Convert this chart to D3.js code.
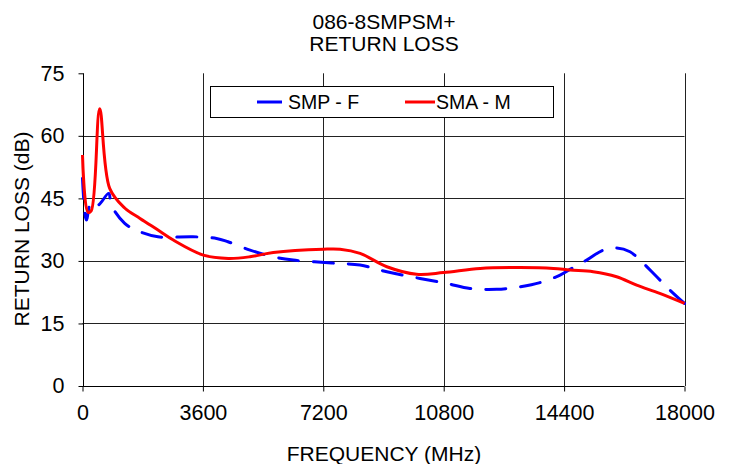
<!DOCTYPE html>
<html><head><meta charset="utf-8">
<script src="https://cdn.jsdelivr.net/npm/d3@7"></script>
<style>body{margin:0;background:#fff}svg{display:block;font-family:"Liberation Sans",Arial,sans-serif}</style>
</head><body><svg id="c" width="729" height="464"></svg>
<script>
const titleLines = ["086-8SMPSM+", "RETURN LOSS"];
const xTicks = [0, 3600, 7200, 10800, 14400, 18000];
const yTicks = [0, 15, 30, 45, 60, 75];
const seriesNames = ["SMP - F", "SMA - M"];
const smpFreq = [0, 115, 263, 463, 783, 861, 1262, 1600, 2257, 3300, 4010, 4350, 5010, 5700, 6300, 7450, 8300, 9100, 10090, 10890, 11585, 12385, 13080, 13680, 14280, 14670, 15075, 15570, 15970, 16370, 16670, 17170, 17565, 18000];
const smpLoss = [49.8, 39.8, 44.2, 43.4, 46.2, 43.4, 39, 37.4, 35.8, 35.8, 35.4, 34.6, 32.6, 31, 30.2, 29.5, 29, 27.4, 25.8, 24.6, 23.4, 23.2, 23.8, 24.8, 26.6, 28.4, 30.2, 32.6, 33.1, 32.2, 30.2, 26.2, 23, 19.8];
const smaFreq = [0, 165, 260, 514, 813, 1262, 1720, 2257, 2715, 3612, 4360, 5010, 5705, 7200, 7700, 8300, 9100, 9990, 10790, 11890, 13080, 14080, 14575, 15270, 15970, 16570, 17260, 18000];
const smaLoss = [55.4, 41.7, 42, 66.5, 47.4, 42.7, 40.2, 37.4, 35, 31.4, 30.6, 31, 32, 32.8, 32.8, 31.8, 28.6, 26.8, 27.2, 28.2, 28.4, 28.2, 27.8, 27.4, 26.2, 24.2, 22.2, 19.8];

const svg = d3.select("#c");
const L = 82.5, R = 684.5, T = 73.3, B = 386;
const x = d3.scaleLinear().domain([0, 18000]).range([L, R]);
const y = d3.scaleLinear().domain([0, 75]).range([B, T]);

// gridlines
svg.append("g").selectAll("line").data(yTicks.filter(d => d > 0 && d < 75)).join("line")
  .attr("x1", L).attr("x2", R).attr("y1", d => Math.round(y(d)) + 0.5).attr("y2", d => Math.round(y(d)) + 0.5)
  .attr("stroke", "#222").attr("stroke-width", 1);
svg.append("g").selectAll("line").data(xTicks.filter(d => d > 0)).join("line")
  .attr("y1", T).attr("y2", B).attr("x1", d => Math.round(x(d)) + 0.5).attr("x2", d => Math.round(x(d)) + 0.5)
  .attr("stroke", "#222").attr("stroke-width", 1);

// axes
const yAxis = svg.append("g").attr("transform", `translate(${Math.round(L)+0.5},0)`)
  .call(d3.axisLeft(y).tickValues(yTicks).tickSize(5).tickPadding(14).tickFormat(d3.format("d")));
const xAxis = svg.append("g").attr("transform", `translate(0,${B+0.5})`)
  .call(d3.axisBottom(x).tickValues(xTicks).tickSize(5).tickPadding(13).tickFormat(d3.format("d")));
[yAxis, xAxis].forEach(a => {
  a.select(".domain").attr("stroke", "#000");
  a.selectAll(".tick line").attr("stroke", "#000");
  a.selectAll("text").attr("font-size", 21.5).attr("fill", "#000").attr("font-family", '"Liberation Sans",Arial,sans-serif');
});
yAxis.select(".domain").attr("d", `M0,${T}V${B}`);
yAxis.selectAll(".tick line").attr("x1", 0);
xAxis.select(".domain").attr("d", `M${L},0H${R}`);

// lines
const line = d3.line().x(d => x(d[0])).y(d => y(d[1])).curve(d3.curveCatmullRom.alpha(0.5));
const plot = svg.append("g");
plot.append("path").datum(smpFreq.map((f, i) => [f, smpLoss[i]]))
  .attr("d", line).attr("fill", "none").attr("stroke", "#0000ff").attr("stroke-width", 3)
  .attr("stroke-dasharray", "20,15").attr("stroke-linecap", "round");
plot.append("path").datum(smaFreq.map((f, i) => [f, smaLoss[i]]))
  .attr("d", line).attr("fill", "none").attr("stroke", "#ff0000").attr("stroke-width", 3)
  .attr("stroke-linejoin", "round");

// legend
const lg = svg.append("g");
lg.append("rect").attr("x", 210.5).attr("y", 86.5).attr("width", 343).attr("height", 31)
  .attr("fill", "#fff").attr("stroke", "#000").attr("stroke-width", 1);
const legendItems = [
  {name: seriesNames[0], color: "#0000ff", x1: 257, x2: 282, tx: 288},
  {name: seriesNames[1], color: "#ff0000", x1: 405, x2: 435, tx: 436}
];
legendItems.forEach(it => {
  lg.append("line").attr("x1", it.x1).attr("x2", it.x2).attr("y1", 102).attr("y2", 102)
    .attr("stroke", it.color).attr("stroke-width", 3);
  lg.append("text").attr("x", it.tx).attr("y", 102).attr("dy", "0.35em")
    .attr("font-size", 19.5).text(it.name);
});

// titles
svg.append("g").selectAll("text").data(titleLines).join("text")
  .attr("x", 384).attr("y", (d, i) => 22 + i * 22).attr("dy", "0.35em")
  .attr("text-anchor", "middle").attr("font-size", 21).text(d => d);
svg.append("text").attr("x", 384).attr("y", 454).attr("dy", "0.35em")
  .attr("text-anchor", "middle").attr("font-size", 21).text("FREQUENCY (MHz)");
svg.append("text").attr("transform", "translate(22,229) rotate(-90)").attr("dy", "0.35em")
  .attr("text-anchor", "middle").attr("font-size", 21).text("RETURN LOSS (dB)");
</script></body></html>
